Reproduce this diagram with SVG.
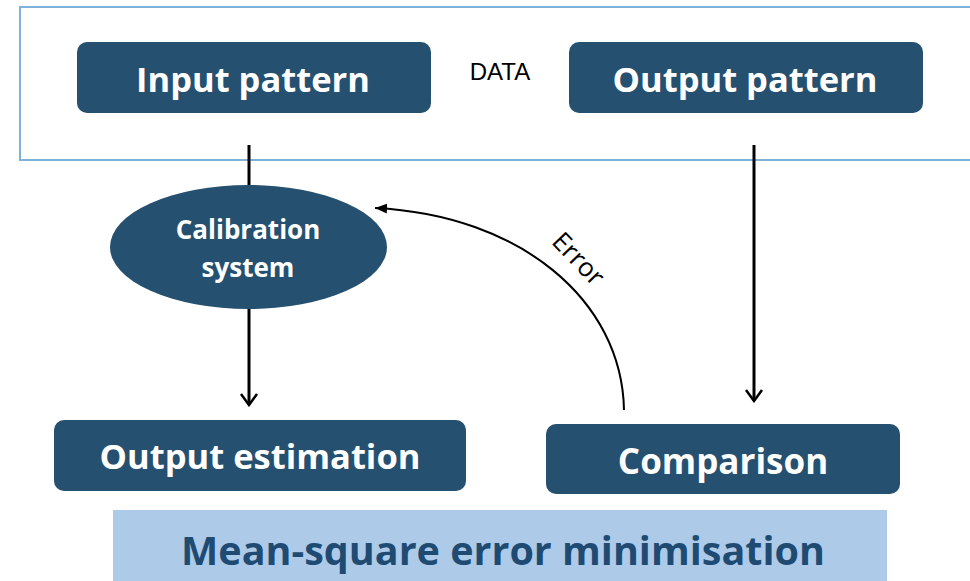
<svg xmlns="http://www.w3.org/2000/svg" width="970" height="581" viewBox="0 0 970 581">
  <style>
    .box { fill: #25506f; }
    .lbl { fill: #ffffff; font-family: "Open Sans", "Liberation Sans", sans-serif; font-weight: bold; text-anchor: middle; }
    .wire { fill: none; stroke: #000000; stroke-width: 3; }
    .thin { fill: none; stroke: #000000; stroke-width: 2; }
  </style>
  <defs>
    <marker id="arrowV" markerWidth="14" markerHeight="20" refX="12" refY="10" orient="auto" markerUnits="userSpaceOnUse">
      <path d="M1,2 L12,10 L1,18" fill="none" stroke="#000" stroke-width="2.5"/>
    </marker>
    <marker id="arrowS" markerWidth="14" markerHeight="12" refX="12" refY="6" orient="auto" markerUnits="userSpaceOnUse">
      <path d="M0,1 L12,6 L0,11 Z" fill="#000"/>
    </marker>
  </defs>
  <rect width="970" height="581" fill="#ffffff"/>

  <!-- data frame -->
  <g id="data">
    <rect x="20" y="7" width="970" height="153" fill="none" stroke="#7fb1dd" stroke-width="2"/>
    <text x="500" y="80" font-family="Liberation Sans, sans-serif" font-size="24" text-anchor="middle" fill="#000">DATA</text>
  </g>

  <!-- connectors -->
  <g id="connectors">
    <line class="wire" x1="249" y1="145" x2="249" y2="186"/>
    <line class="wire" x1="249" y1="309" x2="249" y2="405" marker-end="url(#arrowV)"/>
    <line class="wire" x1="754" y1="145" x2="754" y2="401" marker-end="url(#arrowV)"/>
    <path class="thin" d="M624,410 C622,300 520,215 375,208" marker-end="url(#arrowS)"/>
    <text transform="translate(572,265) rotate(46)" font-family="Open Sans, Liberation Sans, sans-serif" font-size="26" text-anchor="middle" fill="#000">Error</text>
  </g>

  <g id="input-pattern">
    <rect class="box" x="77" y="42" width="354" height="71" rx="10"/>
    <text class="lbl" x="253" y="92" font-size="34.5">Input pattern</text>
  </g>

  <g id="output-pattern">
    <rect class="box" x="569" y="42" width="354" height="71" rx="10"/>
    <text class="lbl" x="745" y="92" font-size="34.5">Output pattern</text>
  </g>

  <g id="calibration-system">
    <ellipse class="box" cx="248.5" cy="247" rx="138.5" ry="62"/>
    <text class="lbl" x="248" y="239" font-size="26">Calibration</text>
    <text class="lbl" x="248" y="277" font-size="26">system</text>
  </g>

  <g id="output-estimation">
    <rect class="box" x="54" y="420" width="412" height="71" rx="10"/>
    <text class="lbl" x="260" y="469" font-size="34.5">Output estimation</text>
  </g>

  <g id="comparison">
    <rect class="box" x="546" y="424" width="354" height="70" rx="10"/>
    <text class="lbl" x="723" y="474" font-size="35">Comparison</text>
  </g>

  <g id="mse">
    <rect x="113" y="510" width="774" height="71" fill="#adcbe9"/>
    <text x="503" y="565" font-family="Open Sans, Liberation Sans, sans-serif" font-weight="bold" font-size="39.5" text-anchor="middle" fill="#1f4b73">Mean-square error minimisation</text>
  </g>
</svg>
